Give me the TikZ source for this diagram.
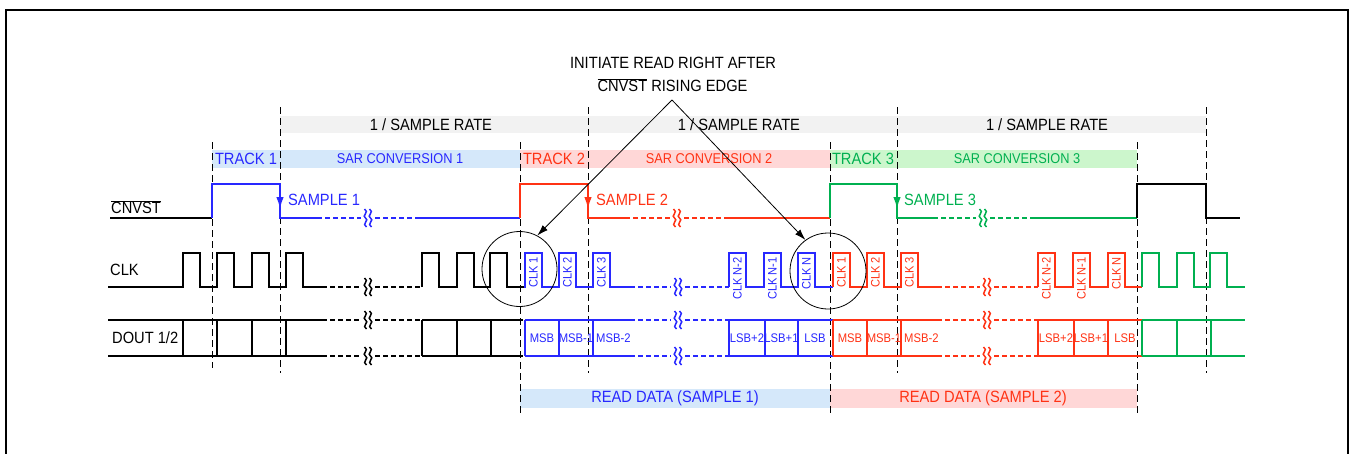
\documentclass[tikz,border=0pt]{standalone}
\usepackage{fontspec}
\setmainfont[FakeStretch=0.9]{Liberation Sans}
\usetikzlibrary{arrows.meta}
\definecolor{cb}{RGB}{40,40,255}
\definecolor{cr}{RGB}{255,50,20}
\definecolor{cg}{RGB}{0,176,80}
\definecolor{bgray}{RGB}{242,242,242}
\definecolor{bblue}{RGB}{213,232,250}
\definecolor{bred}{RGB}{255,215,215}
\definecolor{bgreen}{RGB}{204,246,204}
\newcommand\clkp[1]{-- (#1,287) -- (#1,253) -- ({#1+17},253) -- ({#1+17},287)}
\newcommand\brksym[3]{\foreach \dx in {-2.5,2.5}{\draw[#3, line width=1.5pt] ({#1+\dx-1},{#2-9}) .. controls ({#1+\dx+4.5},{#2-6}) and ({#1+\dx-4.5},{#2-2}) .. ({#1+\dx},{#2}) .. controls ({#1+\dx+4.5},{#2+2}) and ({#1+\dx-4.5},{#2+6}) .. ({#1+\dx+1},{#2+9});}}
\newcommand\dashline[5]{% color, y, x1, brk, x2
  \draw[#1, sigd] (#3,#2) -- ({#4-7},#2); \draw[#1, sigd] ({#4+7},#2) -- (#5,#2); \brksym{#4}{#2}{#1}}
\begin{document}
\begin{tikzpicture}[x=1pt,y=-1pt,
  sig/.style={line width=1.6pt, line join=miter},
  sigd/.style={line width=1.6pt, dash pattern=on 5pt off 3pt},
  vd/.style={line width=0.9pt, dash pattern=on 7pt off 4pt},
  lbl/.style={font=\fontsize{16.3}{18}\selectfont, inner sep=0pt},
  bandt/.style={font=\fontsize{14.2}{16}\selectfont, inner sep=0pt},
  cell/.style={font=\fontsize{12.5}{14}\selectfont, inner sep=0pt},
  clkl/.style={font=\fontsize{12.3}{14}\selectfont, rotate=90, anchor=east, inner sep=0pt},
  callarr/.style={line width=0.8pt, -{Latex[length=11pt,width=7pt]}},
  edgearr/.style={line width=1.6pt, -{Latex[length=12pt,width=7.5pt]}}]
\useasboundingbox (0,0) rectangle (1350,453);
\begin{scope}
\clip (0,0) rectangle (1350,453);
\draw[line width=2pt] (6,470) -- (6,10) -- (1348,10) -- (1348,470);
\end{scope}

% bands
\fill[bgray] (280,116) rectangle (1206,133);
\fill[bblue] (212,150) rectangle (520,168);
\fill[bred] (520,150) rectangle (830,168);
\fill[bgreen] (830,150) rectangle (1137,168);
\fill[bblue] (520,389) rectangle (830,408);
\fill[bred] (830,389) rectangle (1137,408);

\node[lbl] (sr1) at (431,124.5) {1 / SAMPLE RATE};
\node[lbl] (sr2) at (739,124.5) {1 / SAMPLE RATE};
\node[lbl] (sr3) at (1047,124.5) {1 / SAMPLE RATE};
\node[lbl, text=cb] (tr1) at (246,159) {TRACK 1};
\node[bandt, text=cb] (sar1) at (400,159) {SAR CONVERSION 1};
\node[lbl, text=cr] (tr2) at (554,159) {TRACK 2};
\node[bandt, text=cr] (sar2) at (709,159) {SAR CONVERSION 2};
\node[lbl, text=cg] (tr3) at (863,159) {TRACK 3};
\node[bandt, text=cg] (sar3) at (1017,159) {SAR CONVERSION 3};
\node[lbl, text=cb] (rd1) at (675,398.5) {READ DATA (SAMPLE 1)};
\node[lbl, text=cr] (rd2) at (983,398.5) {READ DATA (SAMPLE 2)};

% dashed verticals
\foreach \x in {280,588,897,1206} \draw[vd] (\x,107) -- (\x,373);
\draw[vd] (212,142) -- (212,368);
\foreach \x in {520,830,1137} \draw[vd] (\x,142) -- (\x,414);

% signal labels
\node[lbl, anchor=west] (lcnv) at (111,207) {$\overline{\mbox{CNVST}}$};
\node[lbl, anchor=west] (lclk) at (110,270) {CLK};
\node[lbl, anchor=west] (ldout) at (112,338) {DOUT 1/2};

% CNVST
\draw[sig] (110,218) -- (212,218);
\draw[sig, cb] (212,218) -- (212,184) -- (280,184) -- (280,218) -- (317,218);
\dashline{cb}{218}{317}{368}{418}
\draw[sig, cb] (418,218) -- (520,218);
\draw[cb, edgearr] (280,186) -- (280,209);
\draw[sig, cr] (520,218) -- (520,184) -- (588,184) -- (588,218) -- (625,218);
\dashline{cr}{218}{625}{677}{725}
\draw[sig, cr] (725,218) -- (830,218);
\draw[cr, edgearr] (588,186) -- (588,209);
\draw[sig, cg] (830,218) -- (830,184) -- (897,184) -- (897,218) -- (933,218);
\dashline{cg}{218}{933}{983}{1035}
\draw[sig, cg] (1035,218) -- (1137,218);
\draw[cg, edgearr] (897,186) -- (897,209);
\draw[sig] (1137,218) -- (1137,184) -- (1206,184) -- (1206,218) -- (1240,218);
\node[lbl, anchor=west, text=cb] (s1) at (288,200) {SAMPLE 1};
\node[lbl, anchor=west, text=cr] (s2) at (596,200) {SAMPLE 2};
\node[lbl, anchor=west, text=cg] (s3) at (904,200) {SAMPLE 3};

% CLK
\draw[sig] (108,287) \clkp{183}\clkp{217}\clkp{252}\clkp{286} -- (322,287);
\dashline{black}{287}{322}{368}{422}
\draw[sig] (422,287) \clkp{422}\clkp{457}\clkp{490} -- (524,287);
\draw[sig, cb] (524,287) \clkp{525}\clkp{559}\clkp{593} -- (630,287);
\dashline{cb}{287}{630}{678}{729}
\draw[sig, cb] (729,287) \clkp{729}\clkp{764}\clkp{798} -- (833,287);
\draw[sig, cr] (833,287) \clkp{833}\clkp{867}\clkp{901} -- (937,287);
\dashline{cr}{287}{937}{987}{1038}
\draw[sig, cr] (1038,287) \clkp{1038}\clkp{1073}\clkp{1108} -- (1142,287);
\draw[sig, cg] (1142,287) \clkp{1142}\clkp{1177}\clkp{1210} -- (1245,287);
\foreach \x/\t [count=\i] in {533.5/CLK 1,567.5/CLK 2,601.5/CLK 3,737.5/CLK N-2,772.5/CLK N-1,806.5/CLK N}
  \node[clkl, text=cb] (cb\i) at (\x,257) {\t};
\foreach \x/\t [count=\i] in {841.5/CLK 1,875.5/CLK 2,909.5/CLK 3,1046.5/CLK N-2,1081.5/CLK N-1,1116.5/CLK N}
  \node[clkl, text=cr] (cr\i) at (\x,257) {\t};

% DOUT
\foreach \y in {320,356} {
  \draw[sig] (108,\y) -- (322,\y);
  \dashline{black}{\y}{322}{368}{422}
  \draw[sig] (422,\y) -- (523,\y);
  \draw[sig, cb] (525,\y) -- (630,\y);
  \dashline{cb}{\y}{630}{678}{729}
  \draw[sig, cb] (729,\y) -- (833,\y);
  \draw[sig, cr] (833,\y) -- (937,\y);
  \dashline{cr}{\y}{937}{987}{1038}
  \draw[sig, cr] (1038,\y) -- (1142,\y);
  \draw[sig, cg] (1142,\y) -- (1245,\y);
}
\foreach \x in {183,217,252,286,422,457,491} \draw[sig] (\x,320) -- (\x,356);
\foreach \x in {525,559,593,729,765,798} \draw[sig, cb] (\x,320) -- (\x,356);
\foreach \x in {833,867,901,1038,1074,1108} \draw[sig, cr] (\x,320) -- (\x,356);
\foreach \x in {1142,1177,1211} \draw[sig, cg] (\x,320) -- (\x,356);
\node[cell, text=cb] (db1) at (542,338) {MSB};
\node[cell, text=cb] (db2) at (576,338) {MSB-1};
\node[cell, text=cb, anchor=west] (db3) at (596,338) {MSB-2};
\node[cell, text=cb] (db4) at (747,338) {LSB+2};
\node[cell, text=cb] (db5) at (781.5,338) {LSB+1};
\node[cell, text=cb] (db6) at (815,338) {LSB};
\node[cell, text=cr] (dr1) at (850,338) {MSB};
\node[cell, text=cr] (dr2) at (884,338) {MSB-1};
\node[cell, text=cr, anchor=west] (dr3) at (904,338) {MSB-2};
\node[cell, text=cr] (dr4) at (1056,338) {LSB+2};
\node[cell, text=cr] (dr5) at (1091,338) {LSB+1};
\node[cell, text=cr] (dr6) at (1125,338) {LSB};

% callout
\node[lbl] (ct1) at (673,63) {INITIATE READ RIGHT AFTER};
\node[lbl] (ct2) at (672.5,85) {$\overline{\mbox{CNVST}}$ RISING EDGE};
\coordinate (apex) at (672,100);
\node[draw, circle, line width=0.8pt, minimum size=75pt, inner sep=0pt] (c1) at (519.5,269) {};
\node[draw, circle, line width=0.8pt, minimum size=76pt, inner sep=0pt] (c2) at (828,271) {};
\draw[callarr] (apex) -- (c1.62);
\draw[callarr] (apex) -- (c2.126);
\end{tikzpicture}
\end{document}
